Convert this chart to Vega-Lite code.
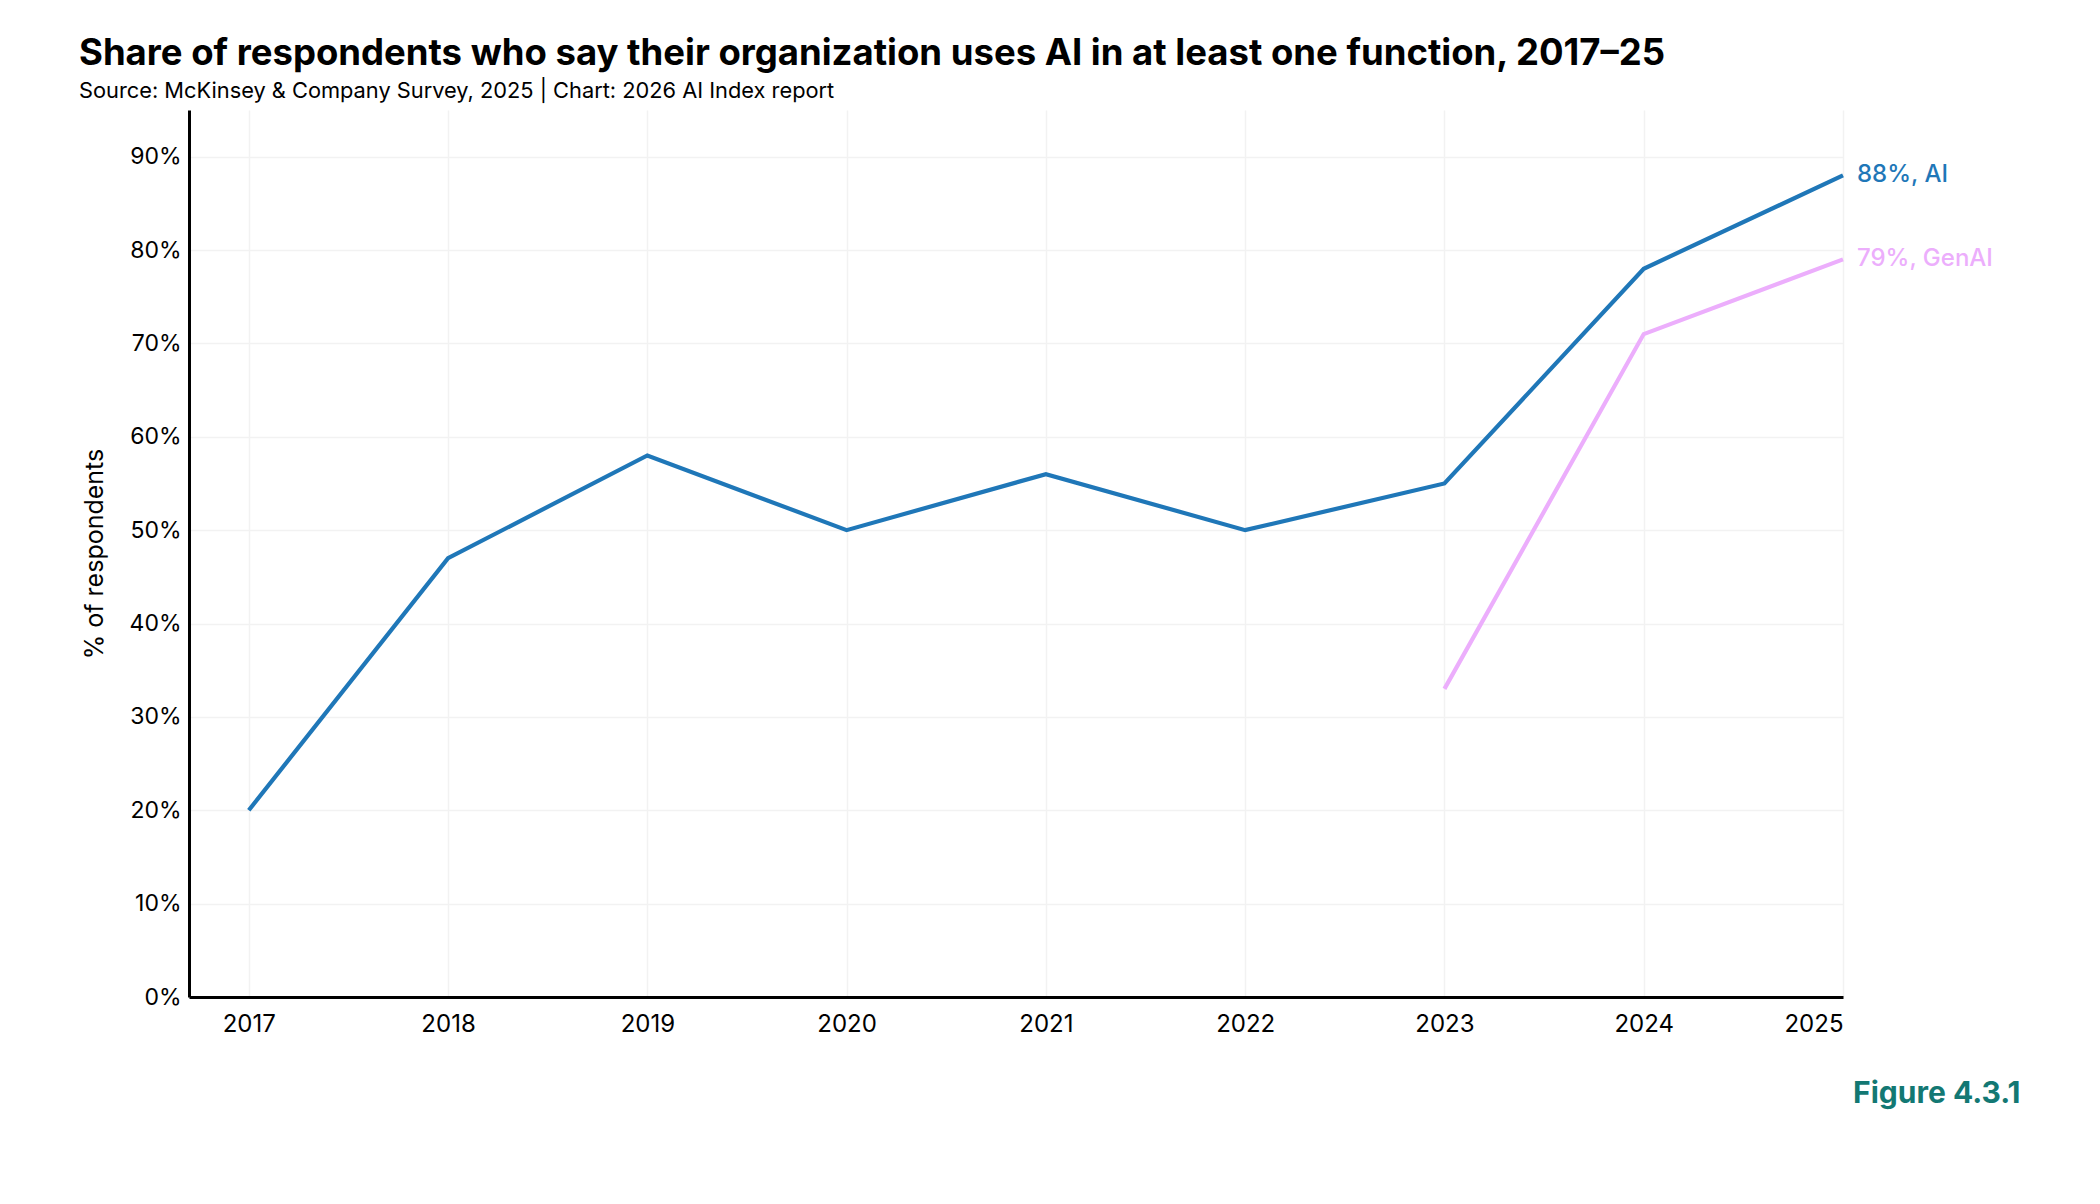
{
  "$schema": "https://vega.github.io/schema/vega-lite/v6.json",
  "autosize": {"type": "none"},
  "width": 1654,
  "height": 887,
  "padding": {"left": 189, "top": 110, "right": 257, "bottom": 207},
  "background": "white",
  "config": {
    "font": "Inter",
    "view": {"stroke": null}
  },
  "title": {
    "text": "Share of respondents who say their organization uses AI in at least one function, 2017–25",
    "subtitle": "Source: McKinsey & Company Survey, 2025 | Chart: 2026 AI Index report",
    "anchor": "start",
    "frame": "group",
    "dx": -110,
    "offset": 7,
    "font": "Inter",
    "fontSize": 36.5,
    "fontWeight": "bold",
    "color": "black",
    "subtitleFont": "Inter",
    "subtitleFontSize": 21.8,
    "subtitleColor": "black",
    "subtitlePadding": 9
  },
  "data": {
    "values": [
      {"year": 2017, "value": 20, "series": "AI"},
      {"year": 2018, "value": 47, "series": "AI"},
      {"year": 2019, "value": 58, "series": "AI"},
      {"year": 2020, "value": 50, "series": "AI"},
      {"year": 2021, "value": 56, "series": "AI"},
      {"year": 2022, "value": 50, "series": "AI"},
      {"year": 2023, "value": 55, "series": "AI"},
      {"year": 2024, "value": 78, "series": "AI"},
      {"year": 2025, "value": 88, "series": "AI"},
      {"year": 2023, "value": 33, "series": "GenAI"},
      {"year": 2024, "value": 71, "series": "GenAI"},
      {"year": 2025, "value": 79, "series": "GenAI"}
    ]
  },
  "encoding": {
    "x": {
      "field": "year",
      "type": "quantitative",
      "scale": {"domain": [2016.7, 2025], "nice": false, "zero": false},
      "axis": {
        "values": [2017, 2018, 2019, 2020, 2021, 2022, 2023, 2024, 2025],
        "format": "d",
        "title": "Figure 4.3.1",
        "titleFont": "Inter",
        "titleFontSize": 30,
        "titleFontWeight": "bold",
        "titleColor": "#137873",
        "titleAlign": "right",
        "titleAnchor": "end",
        "titleBaseline": "alphabetic",
        "titleX": 1831,
        "titleY": 105,
        "domainColor": "black",
        "domainWidth": 3,
        "ticks": false,
        "labelFont": "Inter",
        "labelFontSize": 24,
        "labelColor": "black",
        "labelPadding": 15,
        "gridColor": "#f2f2f2",
        "gridWidth": 1.5
      }
    },
    "y": {
      "field": "value",
      "type": "quantitative",
      "scale": {"domain": [0, 95], "nice": false},
      "axis": {
        "values": [0, 10, 20, 30, 40, 50, 60, 70, 80, 90],
        "labelExpr": "datum.value + '%'",
        "title": "% of respondents",
        "titleFont": "Inter",
        "titleFontSize": 25,
        "titleFontWeight": "normal",
        "titleColor": "black",
        "titlePadding": 22,
        "domainColor": "black",
        "domainWidth": 3,
        "ticks": false,
        "labelFont": "Inter",
        "labelFontSize": 23,
        "labelColor": "black",
        "labelPadding": 8,
        "gridColor": "#f2f2f2",
        "gridWidth": 1.5
      }
    },
    "color": {
      "field": "series",
      "type": "nominal",
      "scale": {"domain": ["AI", "GenAI"], "range": ["#1f77b8", "#ecaefc"]},
      "legend": null
    }
  },
  "layer": [
    {
      "mark": {"type": "line", "strokeWidth": 4.2, "clip": false}
    },
    {
      "transform": [
        {"filter": "datum.year == 2025"},
        {"calculate": "datum.value + '%, ' + datum.series", "as": "label"}
      ],
      "mark": {"type": "text", "align": "left", "baseline": "middle", "dx": 14, "fontSize": 24, "fontWeight": 500, "font": "Inter", "clip": false},
      "encoding": {"text": {"field": "label"}}
    }
  ]
}
